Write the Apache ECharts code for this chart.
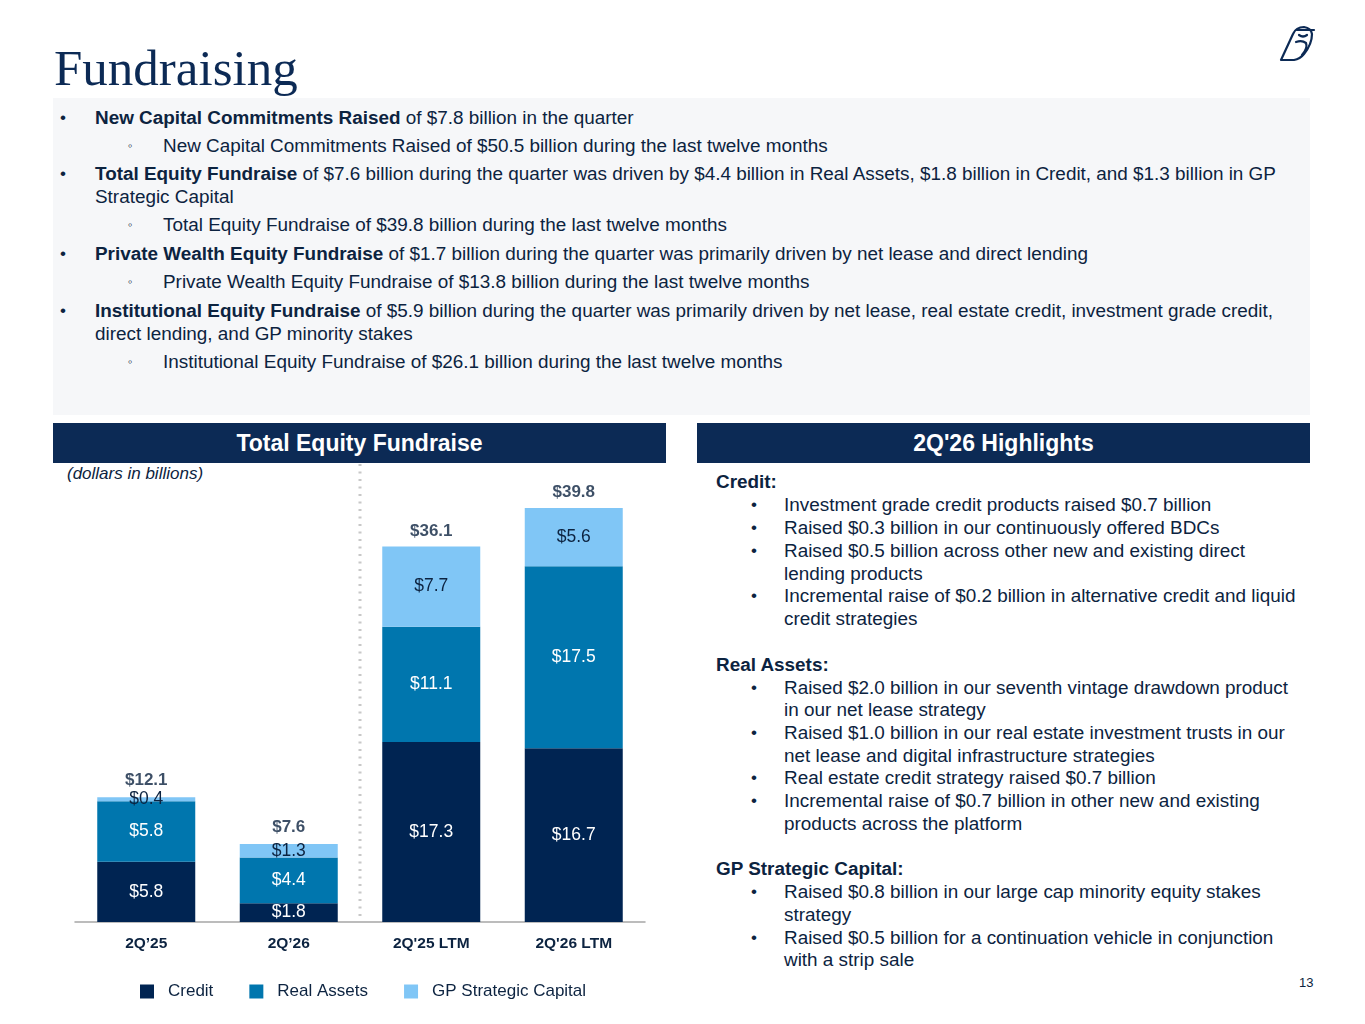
<!DOCTYPE html>
<html>
<head>
<meta charset="utf-8">
<script src="https://cdn.jsdelivr.net/npm/echarts@6/dist/echarts.min.js"></script>
<style>
html,body{margin:0;padding:0;width:1365px;height:1024px;background:#fff;overflow:hidden;}
body{font-family:"Liberation Sans",Arial,sans-serif;color:#0c2340;position:relative;}
.abs{position:absolute;}
#title{left:54px;top:38px;font-family:"Liberation Serif","Times New Roman",serif;font-size:51px;color:#0c2a55;line-height:60px;}
#panel{left:53px;top:98px;width:1257px;height:317px;background:#f6f7f9;}
.line{position:absolute;font-size:18.9px;line-height:23px;white-space:nowrap;}
.hdr{position:absolute;top:423px;height:40px;background:#0c2a55;color:#fff;font-weight:bold;font-size:23px;line-height:40px;text-align:center;}
#chart{left:0;top:0;width:1365px;height:1024px;}
</style>
</head>
<body>
<div id="title" class="abs">Fundraising</div>
<svg class="abs" style="left:1276px;top:20px" width="44" height="44" viewBox="0 0 44 44">
  <g fill="none" stroke="#0c2a55" stroke-width="2.2" stroke-linecap="round" stroke-linejoin="round">
    <path d="M5 40 L17 14 Q20 7 28 7 Q35 8 36 14 Q36 24 28 34 Q24 39 18 40 Z"/>
    <path d="M21 10 L38 10"/>
    <path d="M23 15 Q27 18 31 15"/>
    <path d="M20 22 Q26 20 30 23 Q32 28 26 35"/>
  </g>
</svg>
<div id="panel" class="abs"></div>
<div id="toptext"></div>
<div class="hdr" style="left:53px;width:613px;">Total Equity Fundraise</div>
<div class="hdr" style="left:697px;width:613px;">2Q'26 Highlights</div>
<div class="abs" style="left:67px;top:463px;font-size:17px;font-style:italic;line-height:22px;">(dollars in billions)</div>
<div id="righttext"></div>
<div class="abs" style="left:1299px;top:975px;font-size:13px;line-height:16px;color:#0c2340;">13</div>
<div id="chart" class="abs"></div>
<script>
// ---- data ----
var categories = ["2Q\u201925", "2Q\u201926", "2Q'25 LTM", "2Q'26 LTM"];
var creditValues = [5.8, 1.8, 17.3, 16.7];
var realAssetsValues = [5.8, 4.4, 11.1, 17.5];
var gpStrategicValues = [0.4, 1.3, 7.7, 5.6];
var totalValues = [12.1, 7.6, 36.1, 39.8];
var seriesNames = ["Credit", "Real Assets", "GP Strategic Capital"];

// ---- text blocks ----
var topLines = [
  {y:106, x:95, b:"New Capital Commitments Raised", t:" of $7.8 billion in the quarter", bullet:"\u2022"},
  {y:134, x:163, t:"New Capital Commitments Raised of $50.5 billion during the last twelve months", bullet:"\u25e6"},
  {y:162, x:95, b:"Total Equity Fundraise", t:" of $7.6 billion during the quarter was driven by $4.4 billion in Real Assets, $1.8 billion in Credit, and $1.3 billion in GP", bullet:"\u2022"},
  {y:185, x:95, t:"Strategic Capital"},
  {y:213, x:163, t:"Total Equity Fundraise of $39.8 billion during the last twelve months", bullet:"\u25e6"},
  {y:242, x:95, b:"Private Wealth Equity Fundraise", t:" of $1.7 billion during the quarter was primarily driven by net lease and direct lending", bullet:"\u2022"},
  {y:270, x:163, t:"Private Wealth Equity Fundraise of $13.8 billion during the last twelve months", bullet:"\u25e6"},
  {y:299, x:95, b:"Institutional Equity Fundraise", t:" of $5.9 billion during the quarter was primarily driven by net lease, real estate credit, investment grade credit,", bullet:"\u2022"},
  {y:322, x:95, t:"direct lending, and GP minority stakes"},
  {y:350, x:163, t:"Institutional Equity Fundraise of $26.1 billion during the last twelve months", bullet:"\u25e6"}
];
var rightLines = [
  {y:470, head:"Credit:"},
  {y:493, t:"Investment grade credit products raised $0.7 billion", bullet:true},
  {y:516, t:"Raised $0.3 billion in our continuously offered BDCs", bullet:true},
  {y:539, t:"Raised $0.5 billion across other new and existing direct", bullet:true},
  {y:562, t:"lending products"},
  {y:584, t:"Incremental raise of $0.2 billion in alternative credit and liquid", bullet:true},
  {y:607, t:"credit strategies"},
  {y:653, head:"Real Assets:"},
  {y:676, t:"Raised $2.0 billion in our seventh vintage drawdown product", bullet:true},
  {y:698, t:"in our net lease strategy"},
  {y:721, t:"Raised $1.0 billion in our real estate investment trusts in our", bullet:true},
  {y:744, t:"net lease and digital infrastructure strategies"},
  {y:766, t:"Real estate credit strategy raised $0.7 billion", bullet:true},
  {y:789, t:"Incremental raise of $0.7 billion in other new and existing", bullet:true},
  {y:812, t:"products across the platform"},
  {y:857, head:"GP Strategic Capital:"},
  {y:880, t:"Raised $0.8 billion in our large cap minority equity stakes", bullet:true},
  {y:903, t:"strategy"},
  {y:926, t:"Raised $0.5 billion for a continuation vehicle in conjunction", bullet:true},
  {y:948, t:"with a strip sale"}
];
function esc(s){return s.replace(/&/g,"&amp;").replace(/</g,"&lt;");}
var html = "";
topLines.forEach(function(l){
  if(l.bullet){
    var bx = l.bullet === "\u2022" ? 60 : 128;
    var fs = l.bullet === "\u2022" ? 17 : 13;
    html += '<div class="line" style="left:'+bx+'px;top:'+l.y+'px;font-size:'+fs+'px;">'+l.bullet+'</div>';
  }
  html += '<div class="line" style="left:'+l.x+'px;top:'+l.y+'px;">'+(l.b?'<b>'+esc(l.b)+'</b>':'')+esc(l.t)+'</div>';
});
document.getElementById("toptext").innerHTML = html;
html = "";
rightLines.forEach(function(l){
  if(l.head){
    html += '<div class="line" style="left:716px;top:'+l.y+'px;font-weight:bold;">'+esc(l.head)+'</div>';
  } else {
    if(l.bullet) html += '<div class="line" style="left:751px;top:'+l.y+'px;font-size:17px;">\u2022</div>';
    html += '<div class="line" style="left:784px;top:'+l.y+'px;">'+esc(l.t)+'</div>';
  }
});
document.getElementById("righttext").innerHTML = html;

// ---- chart ----
var navy = "#002452", mid = "#0076ae", light = "#80c6f6", txt = "#0c2340";
var chart = echarts.init(document.getElementById("chart"), null, {renderer:"canvas"});
function money(v){return "$" + Number(v).toFixed(1);}
var labelBase = {show:true, position:"inside", fontSize:17.5, fontFamily:"Liberation Sans, Arial, sans-serif", formatter:function(p){return money(p.value);}};
var option = {
  animation:false,
  textStyle:{fontFamily:"Liberation Sans, Arial, sans-serif"},
  grid:{left:75, width:570, top:506, height:416, containLabel:false},
  legend:{
    data:seriesNames, left:140, top:983, padding:0, icon:"rect", itemWidth:14, itemHeight:14, itemGap:36,
    textStyle:{fontSize:17, color:txt, padding:[0,0,0,9]}
  },
  xAxis:{
    type:"category", data:categories,
    axisLine:{lineStyle:{color:"#a6a6a6", width:1.5}},
    axisTick:{show:false},
    axisLabel:{fontSize:15.5, fontWeight:"bold", color:txt, margin:14}
  },
  yAxis:{type:"value", min:0, max:40, show:false, splitLine:{show:false}},
  series:[
    {name:seriesNames[0], type:"bar", stack:"s", barWidth:98, data:creditValues,
     itemStyle:{color:navy}, label:Object.assign({}, labelBase, {color:"#ffffff"})},
    {name:seriesNames[1], type:"bar", stack:"s", barWidth:98, data:realAssetsValues,
     itemStyle:{color:mid}, label:Object.assign({}, labelBase, {color:"#ffffff"})},
    {name:seriesNames[2], type:"bar", stack:"s", barWidth:98, data:gpStrategicValues,
     itemStyle:{color:light}, label:Object.assign({}, labelBase, {color:txt})},
    {name:"Total", type:"scatter", data:totalValues, symbolSize:0, silent:true,
     label:{show:true, position:"top", distance:7, fontSize:17, fontWeight:"bold", color:txt,
            formatter:function(p){return money(p.value);}}}
  ]
};
chart.setOption(option);
var x1 = chart.convertToPixel({xAxisIndex:0}, categories[1]);
var x2 = chart.convertToPixel({xAxisIndex:0}, categories[2]);
var xm = (x1 + x2) / 2;
chart.setOption({graphic:[{type:"line", silent:true, z:0,
  shape:{x1:xm, y1:464, x2:xm, y2:921},
  style:{stroke:"#c8c8c8", lineWidth:3, lineDash:[2,5.5]}}]});
</script>
</body>
</html>
